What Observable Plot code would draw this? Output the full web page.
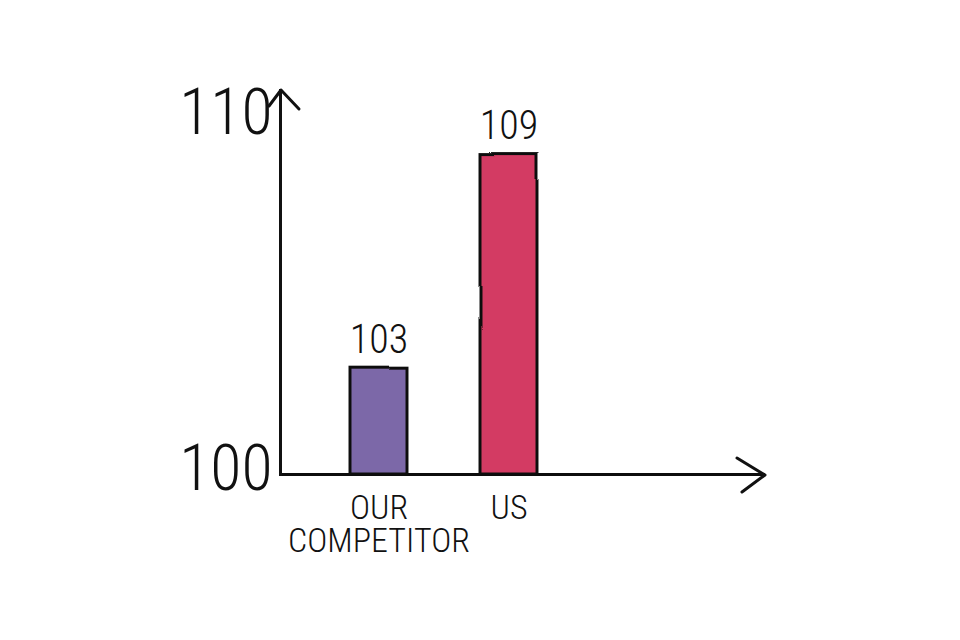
<!DOCTYPE html>
<html>
<head>
<meta charset="utf-8">
<script src="https://cdn.jsdelivr.net/npm/d3@7"></script>
<script src="https://cdn.jsdelivr.net/npm/@observablehq/plot@0.6"></script>
<style>
  html, body { margin: 0; padding: 0; background: #fff; }
  #chart svg { display: block; }
</style>
</head>
<body>
<div id="chart"></div>
<script>
const categories = ["OUR\nCOMPETITOR", "US"];
const values = [103, 109];
const colors = ["#7C68A8", "#D33A63"];
const yTicks = [100, 110];

const data = categories.map((c, i) => ({category: c, value: values[i], color: colors[i]}));

const FONT = "'Roboto Condensed','Liberation Sans Narrow','DejaVu Sans Condensed',Roboto,sans-serif";

const chart = Plot.plot({
  width: 960,
  height: 640,
  marginLeft: 280,
  marginRight: 353,
  marginTop: 118,
  marginBottom: 166,
  style: {fontFamily: FONT, fontWeight: 300, color: "#111", background: "#fff"},
  x: {domain: categories, paddingInner: 0.56, paddingOuter: 0.53, label: null},
  y: {domain: [100, 110], label: null},
  marks: [
    Plot.barY(data, {x: "category", y1: 100, y2: "value", fill: "color", stroke: "#111", strokeWidth: 3, className: "rough"}),
    Plot.text(data, {x: "category", y: "value", text: d => String(d.value), dy: -28, fontSize: 40, fill: "#111", fontWeight: 300}),
    Plot.ruleY([100], {stroke: "#111", strokeWidth: 3, insetRight: -158, className: "rough"}),
    Plot.frame({anchor: "left", stroke: "#111", strokeWidth: 3, insetTop: -28, className: "rough"}),
    Plot.axisY({ticks: yTicks, tickSize: 0, tickPadding: 8, fontSize: 64, dy: -5, label: null, tickFormat: d => String(d)}),
    Plot.axisX({tickSize: 0, tickPadding: 22, fontSize: 34, lineHeight: 0.95, label: null})
  ]
});

const svg = d3.select(chart);
// subtle hand-drawn wobble (filter region covers the whole canvas so thin lines survive)
const defs = svg.insert("defs", ":first-child");
const f = defs.append("filter").attr("id", "roughen")
  .attr("filterUnits", "userSpaceOnUse").attr("x", 0).attr("y", 0).attr("width", 960).attr("height", 640);
f.append("feTurbulence").attr("type", "fractalNoise").attr("baseFrequency", 0.015).attr("numOctaves", 1).attr("seed", 3).attr("result", "noise");
f.append("feDisplacementMap").attr("in", "SourceGraphic").attr("in2", "noise").attr("scale", 3)
  .attr("xChannelSelector", "R").attr("yChannelSelector", "G");
svg.selectAll("g.rough").attr("filter", "url(#roughen)");

// arrowheads computed from the scales
const xs = chart.scale("x"), ys = chart.scale("y");
const x0 = xs.range[0], x1 = xs.range[1] + 158;
const yb = ys.apply(100), yt = ys.apply(110) - 28;
const g = svg.append("g").attr("fill", "none").attr("stroke", "#111").attr("stroke-width", 3).attr("stroke-linecap", "round").attr("stroke-linejoin", "round");
g.append("path").attr("d", `M${x1 - 28},${yb - 16} L${x1},${yb + 1} L${x1 - 23},${yb + 18}`);
g.append("path").attr("d", `M${x0 - 11},${yt + 16} L${x0 + 1},${yt} L${x0 + 19},${yt + 19}`);

document.getElementById("chart").appendChild(chart);
</script>
</body>
</html>
